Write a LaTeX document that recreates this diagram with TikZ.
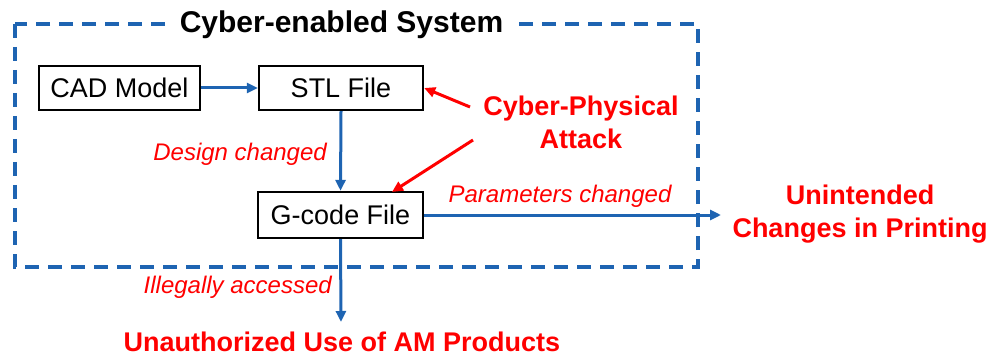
\documentclass[tikz,border=0pt]{standalone}
\usepackage{fontspec}
\setmainfont{Liberation Sans}
\usetikzlibrary{arrows.meta}
\definecolor{myblue}{RGB}{30,100,178}
\definecolor{myred}{RGB}{255,0,0}
\tikzset{
  box/.style={draw=black, line width=2.4pt, inner sep=0pt, text height=19.5pt, text depth=0pt,
              font=\fontsize{27}{32}\selectfont},
  flow/.style={draw=myblue, line width=3pt, -{Triangle[length=11pt,width=10pt]}},
  attackarrow/.style={draw=myred, line width=3pt, -{Triangle[length=11pt,width=10pt]}},
  redlabel/.style={text=myred, inner sep=0pt, font=\fontsize{24}{28}\selectfont\itshape},
  redhead/.style={text=myred, inner sep=0pt, align=center, font=\fontsize{27}{33}\selectfont\bfseries},
  frame/.style={draw=myblue, line width=3.2pt, dash pattern=on 14pt off 9pt},
}
\begin{document}
\begin{tikzpicture}[x=1pt,y=-1pt]
\useasboundingbox (0,0) rectangle (1003,358);
% dashed system frame
\draw[frame] (15,24) rectangle (698,267);
\node[fill=white, inner xsep=8pt, inner ysep=2pt, anchor=base, font=\fontsize{30}{34}\selectfont\bfseries] (title) at (341.5,33) {Cyber-enabled System};
% boxes
\node[box, minimum width=161pt, minimum height=44pt] (cad) at (119.5,88) {CAD Model};
\node[box, minimum width=164pt, minimum height=44pt] (stl) at (341,88) {STL File};
\node[box, minimum width=165pt, minimum height=46pt] (gcode) at (340.5,215) {G-code File};
% labels
\node[redhead] (attack) at (581,122) {Cyber-Physical\\Attack};
\node[redhead] (unint) at (860,214) {Unintended\\Changes in Printing};
\node[redhead, anchor=base] (unauth) at (342,351) {Unauthorized Use of AM Products};
\node[redlabel, anchor=base east] (design) at (327,161) {Design changed};
\node[redlabel, anchor=base] (param) at (560,202) {Parameters changed};
\node[redlabel, anchor=base east] (illeg) at (332,293) {Illegally accessed};
% connector end points
\coordinate (pend) at (721,215);
\coordinate (uend) at (341,322);
\coordinate (a1) at (470,107);
\coordinate (a2) at (473,140);
\coordinate (g2) at (392,192);
% flows
\draw[flow] (cad.east) -- (stl.west);
\draw[flow] (stl.south) -- (gcode.north);
\draw[flow] (gcode.east) -- (pend);
\draw[flow] (gcode.south) -- (uend);
% attack arrows
\draw[attackarrow] (a1) -- (stl.east);
\draw[attackarrow] (a2) -- (g2);
\end{tikzpicture}
\end{document}
